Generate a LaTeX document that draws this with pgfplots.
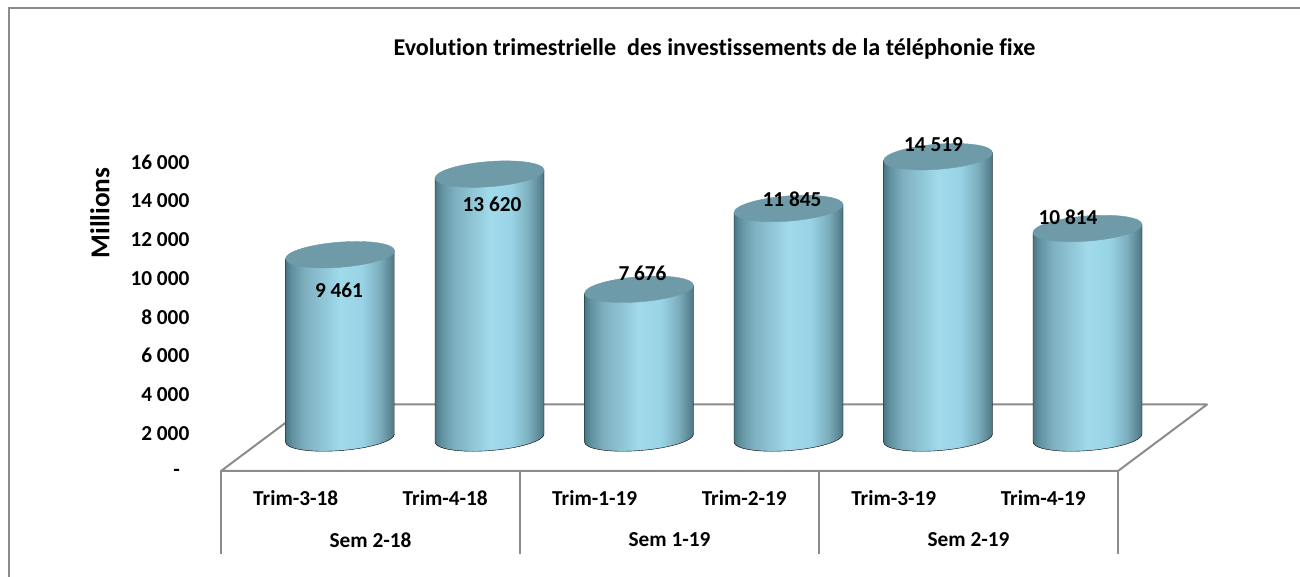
\documentclass[border=0pt]{standalone}
\usepackage{pgfplots}
\pgfplotsset{compat=1.18}
\usepackage{fontspec}
\setmainfont{Carlito}[Ligatures=NoCommon]
\definecolor{grayline}{HTML}{8C8C8C}
\definecolor{cyltop}{HTML}{6F9AA8}
\definecolor{cA}{RGB}{72,118,132}
\definecolor{cB}{RGB}{98,146,160}
\definecolor{cC}{RGB}{126,176,192}
\definecolor{cD}{RGB}{160,218,235}
\definecolor{cE}{RGB}{152,212,230}
\definecolor{cF}{RGB}{125,175,190}
\definecolor{cG}{RGB}{78,118,132}
\pgfdeclarehorizontalshading{cyl}{100bp}{
 color(0bp)=(cA);
 color(25bp)=(cA);
 color(28bp)=(cB);
 color(34bp)=(cC);
 color(50bp)=(cD);
 color(60bp)=(cE);
 color(68bp)=(cF);
 color(75bp)=(cG);
 color(100bp)=(cG)}
\pgfdeclareplotmark{nothing}{}
\newcommand{\chartfont}{\bfseries\fontsize{21.3}{25}\selectfont}
\pgfplotstableread{
x y
0 9461
1 13620
2 7676
3 11845
4 14519
5 10814
}\invest
\begin{document}
\begin{tikzpicture}[x=1pt,y=1pt]
\useasboundingbox (0,0) rectangle (1300,577);
% outer frame
\draw[grayline,line width=2pt] (9,0) -- (9,568.5) -- (1300,568.5);
% floor
\draw[grayline,line width=2pt,line join=round] (221,106) -- (310,172.5) -- (1207,172.5) -- (1118,106) -- cycle;
\foreach \vx in {221,520,819,1118}
  \draw[grayline,line width=2pt] (\vx,106) -- (\vx,23);
\node[font=\bfseries\fontsize{24.1}{28}\selectfont] at (714.5,528.5) {Evolution trimestrielle\ \ des investissements de la téléphonie fixe};
\node[font=\bfseries\fontsize{27.3}{32}\selectfont,rotate=90] at (100,364) {Millions};
\begin{axis}[
  at={(221pt,106pt)},anchor=south west,
  scale only axis,width=897pt,height=310pt,
  xmin=-0.5,xmax=5.5,ymin=0,ymax=16000,
  clip=false,
  axis lines=left,axis line style={draw=none,-},
  tick style={draw=none},
  scaled y ticks=false,
  xtick={0,...,5},
  xticklabels={Trim-3-18,Trim-4-18,Trim-1-19,Trim-2-19,Trim-3-19,Trim-4-19},
  ytick={0,2000,...,16000},
  yticklabels={\makebox[16pt][l]{\smash{\raisebox{-5pt}{-}}},2 000,4 000,6 000,8 000,10 000,12 000,14 000,16 000},
  tick label style={font=\chartfont,text=black},
  xticklabel style={yshift=-14pt},
  yticklabel style={xshift=-26pt,yshift=-1pt},
]
\addplot[draw=none,forget plot] coordinates {(0,0)};
\node[font=\chartfont] at (axis cs:0.5,-3561) {Sem 2-18};
\node[font=\chartfont] at (axis cs:2.5,-3561) {Sem 1-19};
\node[font=\chartfont] at (axis cs:4.5,-3561) {Sem 2-19};
\end{axis}
\begin{axis}[
  at={(221pt,106pt)},anchor=south west,
  scale only axis,width=897pt,height=310pt,
  xmin=-0.796,xmax=5.204,ymin=-1703,ymax=14297,
  clip=false,hide axis,
]
\addplot[
  only marks,mark=nothing,
  scatter,scatter src=y,
  visualization depends on={y \as \cval},
  scatter/@pre marker code/.code={%
    \begin{scope}
    \pgfmathsetmacro{\hh}{\cval*0.019375}%
    \pgfmathsetmacro{\ya}{-4-\hh}%
    \pgfmathsetmacro{\yb}{-10.96-\hh}%
    \pgfmathsetmacro{\yc}{-14.81-\hh}%
    \pgfmathsetmacro{\yd}{-12.6-\hh}%
    \pgfmathsetmacro{\ye}{-10.39-\hh}%
    \pgfmathsetmacro{\yf}{-2.96-\hh}%
    \pgfmathsetmacro{\yg}{4-\hh}%
    \path[shading=cyl]
      (-54.5pt,-4pt) -- (-54.5pt,\ya pt)
      .. controls (-54.5pt,\yb pt) and (-30.1pt,\yc pt) .. (0pt,\yd pt)
      .. controls (30.1pt,\ye pt) and (54.5pt,\yf pt) .. (54.5pt,\yg pt)
      -- (54.5pt,4pt) -- cycle;
    \fill[cyltop] (54.5pt,4pt)
      .. controls (54.5pt,10.96pt) and (30.1pt,14.81pt) .. (0pt,12.6pt)
      .. controls (-30.1pt,10.39pt) and (-54.5pt,2.96pt) .. (-54.5pt,-4pt)
      .. controls (-54.5pt,-10.96pt) and (-30.1pt,-14.81pt) .. (0pt,-12.6pt)
      .. controls (30.1pt,-10.39pt) and (54.5pt,-2.96pt) .. (54.5pt,4pt) -- cycle;
    \end{scope}%
    \begingroup},
  scatter/@post marker code/.code={\endgroup},
] table[x=x,y=y] {\invest};
\end{axis}
\begin{axis}[
  at={(221pt,106pt)},anchor=south west,
  scale only axis,width=897pt,height=310pt,
  xmin=-0.796,xmax=5.204,ymin=-1703,ymax=14297,
  clip=false,hide axis,
]
\addplot[draw=none,forget plot] table[x=x,y=y] {\invest};
\node[font=\chartfont,xshift=-1pt,yshift=-35.3pt] at (axis cs:0,9461) {9 461};
\node[font=\chartfont,xshift=2.5pt,yshift=-30pt] at (axis cs:1,13620) {13 620};
\node[font=\chartfont,xshift=3.5pt,yshift=16.3pt] at (axis cs:2,7676) {7 676};
\node[font=\chartfont,xshift=3.5pt,yshift=9.5pt] at (axis cs:3,11845) {11 845};
\node[font=\chartfont,xshift=-4.5pt,yshift=11.7pt] at (axis cs:4,14519) {14 519};
\node[font=\chartfont,xshift=-19.5pt,yshift=11.5pt] at (axis cs:5,10814) {10 814};
\end{axis}
\end{tikzpicture}
\end{document}
